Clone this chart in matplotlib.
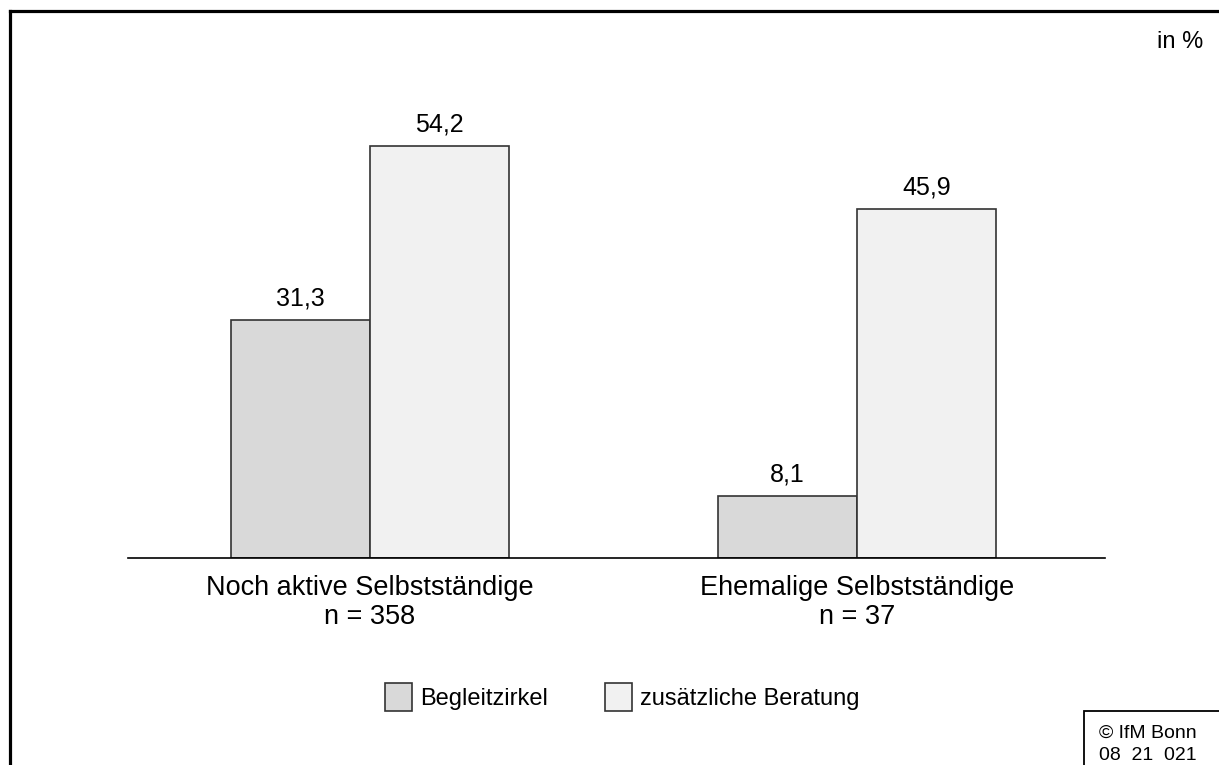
import matplotlib
matplotlib.use("Agg")
import matplotlib.pyplot as plt
from matplotlib.lines import Line2D
from matplotlib.patches import Rectangle
import numpy as np

plt.rcParams['font.family'] = ['Liberation Sans', 'DejaVu Sans']

# data
gruppen = ["Noch aktive Selbstständige\nn = 358", "Ehemalige Selbstständige\nn = 37"]
serien = ["Begleitzirkel", "zusätzliche Beratung"]
begleitzirkel = [31.3, 8.1]
beratung = [54.2, 45.9]
farben = ["#d9d9d9", "#f1f1f1"]

fig = plt.figure(figsize=(12.19, 7.65), dpi=100)
ax = fig.add_axes([0.105, 0.2706, 0.8015, 0.6954])

x = np.arange(len(gruppen))
w = 0.2854
b1 = ax.bar(x - w / 2, begleitzirkel, w, color=farben[0], edgecolor="#333333", linewidth=1.2, label=serien[0])
b2 = ax.bar(x + w / 2, beratung, w, color=farben[1], edgecolor="#333333", linewidth=1.2, label=serien[1])

for bars in (b1, b2):
    for r in bars:
        ax.annotate(("%.1f" % r.get_height()).replace(".", ","),
                    (r.get_x() + r.get_width() / 2, r.get_height()),
                    xytext=(0, 7), textcoords="offset points",
                    ha="center", va="bottom", fontsize=18)

ax.set_xlim(-0.497, 1.509)
ax.set_ylim(0, 70)
ax.set_yticks([])
ax.set_xticks(x)
ax.set_xticklabels(gruppen, fontsize=19.5, linespacing=1.15)
ax.tick_params(axis="x", length=0, pad=12)
for s in ["top", "left", "right"]:
    ax.spines[s].set_visible(False)
ax.spines["bottom"].set_linewidth(1.2)

# legend
leg = fig.legend(handles=[b1, b2], labels=serien, loc="center", bbox_to_anchor=(0.5105, 0.089),
                 ncol=2, frameon=False, fontsize=17, handlelength=1.15, handleheight=1.45,
                 columnspacing=2.4, handletextpad=0.35)

fig.text(0.987, 0.945, "in %", ha="right", va="center", fontsize=17)

# frame
fig.add_artist(Line2D([0.0078, 0.0078], [0, 0.9856], color="black", linewidth=2.3, transform=fig.transFigure))
fig.add_artist(Line2D([0.0078, 1.0], [0.9856, 0.9856], color="black", linewidth=2.3, transform=fig.transFigure))

# copyright box
fig.add_artist(Rectangle((0.889, -0.01), 0.2, 0.081, transform=fig.transFigure,
                         facecolor="white", edgecolor="black", linewidth=1.3))
fig.text(0.9015, 0.041, "© IfM Bonn", ha="left", va="center", fontsize=14)
fig.text(0.9015, 0.013, "08  21  021", ha="left", va="center", fontsize=14)

fig.savefig("out.png", dpi=100)
